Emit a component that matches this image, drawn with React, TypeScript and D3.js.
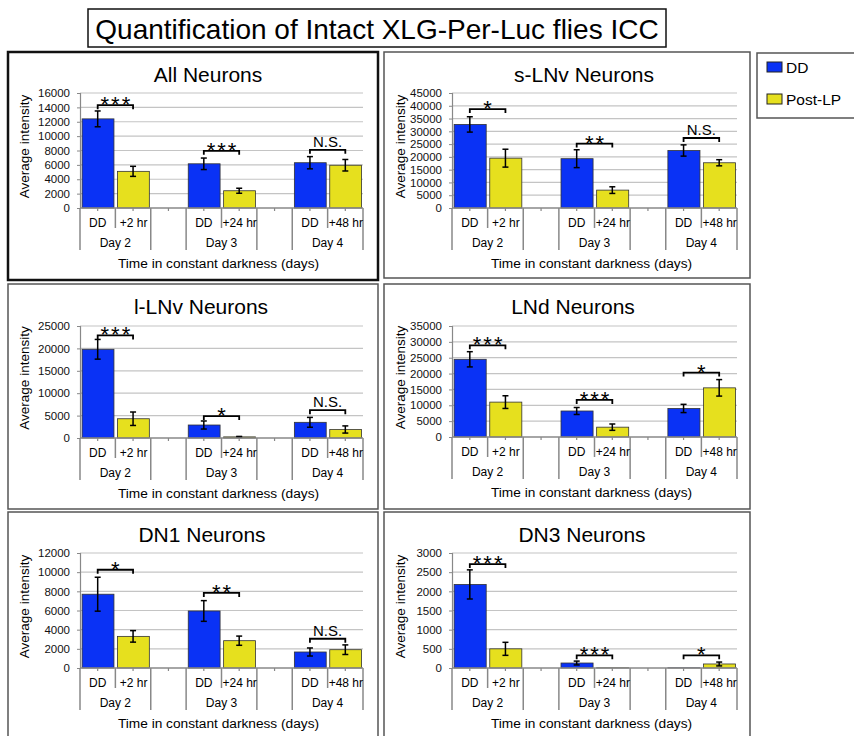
import * as d3 from 'd3'
import {useRef, useEffect} from 'react'

// categories
const dayLabels = ['Day 2', 'Day 3', 'Day 4']
const postLabels = ['+2 hr', '+24 hr', '+48 hr']
const seriesNames = ['DD', 'Post-LP']

// All Neurons
const allTicks = [0, 2000, 4000, 6000, 8000, 10000, 12000, 14000, 16000]
const allDD = [12400, 6150, 6300]
const allDDErr = [1100, 800, 850]
const allPost = [5100, 2400, 5950]
const allPostErr = [700, 350, 800]
const allSig = ['***', '***', 'N.S.']
const allSigAt = [14300, 7950, 8100]

// s-LNv
const slnvTicks = [0, 5000, 10000, 15000, 20000, 25000, 30000, 35000, 40000, 45000]
const slnvDD = [32700, 19300, 22500]
const slnvDDErr = [3000, 3500, 2200]
const slnvPost = [19500, 7000, 17700]
const slnvPostErr = [3500, 1300, 1200]
const slnvSig = ['*', '**', 'N.S.']
const slnvSigAt = [38700, 25200, 27400]

// l-LNv
const llnvTicks = [0, 5000, 10000, 15000, 20000, 25000]
const llnvDD = [19800, 2900, 3500]
const llnvDDErr = [2200, 900, 1100]
const llnvPost = [4300, 250, 1900]
const llnvPostErr = [1500, 100, 800]
const llnvSig = ['***', '*', 'N.S.']
const llnvSigAt = [22900, 4900, 6200]

// LNd
const lndTicks = [0, 5000, 10000, 15000, 20000, 25000, 30000, 35000]
const lndDD = [24500, 8200, 9000]
const lndDDErr = [2400, 1100, 1300]
const lndPost = [11000, 3100, 15500]
const lndPostErr = [2000, 1000, 2600]
const lndSig = ['***', '***', '*']
const lndSigAt = [28900, 11700, 20300]

// DN1
const dn1Ticks = [0, 2000, 4000, 6000, 8000, 10000, 12000]
const dn1DD = [7700, 5950, 1670]
const dn1DDErr = [1770, 1080, 420]
const dn1Post = [3300, 2850, 1910]
const dn1PostErr = [600, 480, 500]
const dn1Sig = ['*', '**', 'N.S.']
const dn1SigAt = [10250, 7830, 3050]

// DN3
const dn3Ticks = [0, 500, 1000, 1500, 2000, 2500, 3000]
const dn3DD = [2180, 130, 5]
const dn3DDErr = [380, 50, 0]
const dn3Post = [500, 5, 105]
const dn3PostErr = [170, 0, 50]
const dn3Sig = ['***', '***', '*']
const dn3SigAt = [2710, 330, 330]

const panelData = [
  {title: 'All Neurons', ticks: allTicks, dd: allDD, ddErr: allDDErr, post: allPost, postErr: allPostErr, sig: allSig, sigAt: allSigAt},
  {title: 's-LNv Neurons', ticks: slnvTicks, dd: slnvDD, ddErr: slnvDDErr, post: slnvPost, postErr: slnvPostErr, sig: slnvSig, sigAt: slnvSigAt},
  {title: 'l-LNv Neurons', ticks: llnvTicks, dd: llnvDD, ddErr: llnvDDErr, post: llnvPost, postErr: llnvPostErr, sig: llnvSig, sigAt: llnvSigAt},
  {title: 'LNd Neurons', ticks: lndTicks, dd: lndDD, ddErr: lndDDErr, post: lndPost, postErr: lndPostErr, sig: lndSig, sigAt: lndSigAt},
  {title: 'DN1 Neurons', ticks: dn1Ticks, dd: dn1DD, ddErr: dn1DDErr, post: dn1Post, postErr: dn1PostErr, sig: dn1Sig, sigAt: dn1SigAt},
  {title: 'DN3 Neurons', ticks: dn3Ticks, dd: dn3DD, ddErr: dn3DDErr, post: dn3Post, postErr: dn3PostErr, sig: dn3Sig, sigAt: dn3SigAt},
]

// layout of each panel box and its plot area
const layout = [
  {x: 8, y: 52, w: 370, h: 228, thick: true, l: 80, r: 363, t: 93, b: 208, tx: 208},
  {x: 384, y: 52, w: 366, h: 226, thick: false, l: 452, r: 737, t: 93, b: 208, tx: 584},
  {x: 8, y: 284, w: 370, h: 225, thick: false, l: 80, r: 363, t: 326, b: 438, tx: 201},
  {x: 384, y: 284, w: 366, h: 225, thick: false, l: 452, r: 737, t: 326, b: 437, tx: 573},
  {x: 8, y: 512, w: 370, h: 240, thick: false, l: 80, r: 363, t: 553, b: 668, tx: 202},
  {x: 384, y: 512, w: 366, h: 240, thick: false, l: 452, r: 737, t: 553, b: 668, tx: 582},
]

const BLUE = '#0a32f5'
const YELLOW = '#e6e01e'
const FONT = 'Liberation Sans, Arial, sans-serif'

const slotKeys = ['0-DD', '0-post', 'gap0', '1-DD', '1-post', 'gap1', '2-DD', '2-post']

export default function App() {
  const svgRef = useRef(null)

  useEffect(() => {
    const svg = d3.select(svgRef.current)
    svg.selectAll('*').remove()
    svg.style('font-family', FONT)

    // main title
    svg.append('rect').attr('x', 88).attr('y', 9).attr('width', 578).attr('height', 38)
      .attr('fill', 'white').attr('stroke', '#111').attr('stroke-width', 1.5)
    svg.append('text').attr('x', 377).attr('y', 39).attr('text-anchor', 'middle')
      .attr('font-size', 28).attr('fill', '#000')
      .text('Quantification of Intact XLG-Per-Luc flies ICC')

    panelData.forEach((p, pi) => {
      const L = layout[pi]
      const g = svg.append('g')

      g.append('rect').attr('x', L.x).attr('y', L.y).attr('width', L.w).attr('height', L.h)
        .attr('fill', 'white')
        .attr('stroke', L.thick ? '#111' : '#555')
        .attr('stroke-width', L.thick ? 2.5 : 1.5)

      g.append('text').attr('x', L.tx).attr('y', L.y + 30).attr('text-anchor', 'middle')
        .attr('font-size', 21).text(p.title)

      const x = d3.scaleBand().domain(slotKeys).range([L.l, L.r])
      const bw = x.bandwidth()
      const y = d3.scaleLinear().domain([0, d3.max(p.ticks)!]).range([L.b, L.t])

      // gridlines
      g.selectAll('line.grid').data(p.ticks.filter(t => t > 0)).enter().append('line')
        .attr('x1', L.l).attr('x2', L.r)
        .attr('y1', d => y(d)).attr('y2', d => y(d))
        .attr('stroke', '#c4c4c4').attr('stroke-width', 1.2)

      // y axis
      const yAxis = d3.axisLeft(y).tickValues(p.ticks).tickSize(3).tickPadding(7)
        .tickFormat(d => String(d))
      const ya = g.append('g').attr('transform', `translate(${L.l},0)`).call(yAxis)
      ya.select('.domain').attr('stroke', '#888').attr('stroke-width', 1.2)
      ya.selectAll('.tick line').attr('stroke', '#888')
      ya.selectAll('.tick text').attr('font-size', 11.5).attr('font-family', FONT).attr('fill', '#111')

      g.append('text')
        .attr('transform', `translate(${L.x + 21},${(L.t + L.b) / 2 - 4}) rotate(-90)`)
        .attr('text-anchor', 'middle').attr('font-size', 13.5).text('Average intensity')

      // bars
      const bars: {key: string, v: number, e: number, c: string}[] = []
      p.dd.forEach((v, i) => {
        bars.push({key: `${i}-DD`, v, e: p.ddErr[i], c: BLUE})
        bars.push({key: `${i}-post`, v: p.post[i], e: p.postErr[i], c: YELLOW})
      })
      g.selectAll('rect.bar').data(bars).enter().append('rect')
        .attr('x', d => x(d.key)! + bw * 0.06)
        .attr('width', bw * 0.9)
        .attr('y', d => y(d.v))
        .attr('height', d => L.b - y(d.v))
        .attr('fill', d => d.c)
        .attr('stroke', '#333').attr('stroke-width', 0.8)

      // error bars
      const eb = g.selectAll('g.err').data(bars.filter(d => d.e > 0)).enter().append('g')
      eb.append('line')
        .attr('x1', d => x(d.key)! + bw / 2).attr('x2', d => x(d.key)! + bw / 2)
        .attr('y1', d => y(d.v + d.e)).attr('y2', d => y(Math.max(0, d.v - d.e)))
        .attr('stroke', '#000').attr('stroke-width', 1.5)
      eb.append('line')
        .attr('x1', d => x(d.key)! + bw / 2 - 3).attr('x2', d => x(d.key)! + bw / 2 + 3)
        .attr('y1', d => y(d.v + d.e)).attr('y2', d => y(d.v + d.e))
        .attr('stroke', '#000').attr('stroke-width', 1.5)
      eb.append('line')
        .attr('x1', d => x(d.key)! + bw / 2 - 3).attr('x2', d => x(d.key)! + bw / 2 + 3)
        .attr('y1', d => y(Math.max(0, d.v - d.e))).attr('y2', d => y(Math.max(0, d.v - d.e)))
        .attr('stroke', '#000').attr('stroke-width', 1.5)

      // x axis line + ticks
      g.append('line').attr('x1', L.l).attr('x2', L.r).attr('y1', L.b).attr('y2', L.b)
        .attr('stroke', '#888').attr('stroke-width', 1.5)
      g.selectAll('line.xt').data(slotKeys).enter().append('line')
        .attr('x1', d => x(d)! + bw / 2).attr('x2', d => x(d)! + bw / 2)
        .attr('y1', L.b).attr('y2', L.b + 3)
        .attr('stroke', '#888').attr('stroke-width', 1.2)

      // multi-level category labels
      dayLabels.forEach((day, i) => {
        const x0 = x(`${i}-DD`)!
        const x1 = x(`${i}-post`)!
        const x2 = x1 + bw
        ;[x0, x2].forEach(xx => {
          g.append('line').attr('x1', xx).attr('x2', xx).attr('y1', L.b).attr('y2', L.b + 42)
            .attr('stroke', '#888').attr('stroke-width', 1.5)
        })
        g.append('line').attr('x1', x1).attr('x2', x1).attr('y1', L.b).attr('y2', L.b + 20)
          .attr('stroke', '#888').attr('stroke-width', 1.5)
        g.append('text').attr('x', x0 + bw / 2).attr('y', L.b + 19).attr('text-anchor', 'middle')
          .attr('font-size', 12).text(seriesNames[0])
        g.append('text').attr('x', x1 + bw / 2 + 0.5).attr('y', L.b + 19).attr('text-anchor', 'middle')
          .attr('font-size', 12).text(postLabels[i])
        g.append('text').attr('x', x1).attr('y', L.b + 39).attr('text-anchor', 'middle')
          .attr('font-size', 12).text(day)

        // significance bracket
        const by = y(p.sigAt[i])
        const cx0 = x0 + bw / 2
        const cx1 = x1 + bw / 2
        g.append('path')
          .attr('d', `M${cx0},${by + 4}V${by}H${cx1}V${by + 4}`)
          .attr('fill', 'none').attr('stroke', '#000').attr('stroke-width', 1.8)
        const isStar = p.sig[i] !== 'N.S.'
        g.append('text').attr('x', (cx0 + cx1) / 2 + (isStar ? 1 : 0))
          .attr('y', isStar ? by + 7 : by - 3)
          .attr('text-anchor', 'middle')
          .attr('font-size', isStar ? 22 : 15)
          .attr('letter-spacing', isStar ? 2 : 0)
          .text(p.sig[i])
      })

      g.append('text').attr('x', (L.l + L.r) / 2 - 3).attr('y', L.b + 60).attr('text-anchor', 'middle')
        .attr('font-size', 13.7).text('Time in constant darkness (days)')
    })

    // legend
    const lg = svg.append('g')
    lg.append('rect').attr('x', 757).attr('y', 53).attr('width', 110).attr('height', 65)
      .attr('fill', 'white').attr('stroke', '#555').attr('stroke-width', 1.5)
    ;[BLUE, YELLOW].forEach((c, i) => {
      lg.append('rect').attr('x', 767).attr('y', 62 + i * 32).attr('width', 15).attr('height', 10)
        .attr('fill', c).attr('stroke', '#222').attr('stroke-width', 1)
      lg.append('text').attr('x', 786).attr('y', 73 + i * 32).attr('font-size', 15.5)
        .text(seriesNames[i])
    })
  }, [])

  return (
    <svg ref={svgRef} width={854} height={736}
      style={{position: 'absolute', left: 0, top: 0, background: 'white'}} />
  )
}
